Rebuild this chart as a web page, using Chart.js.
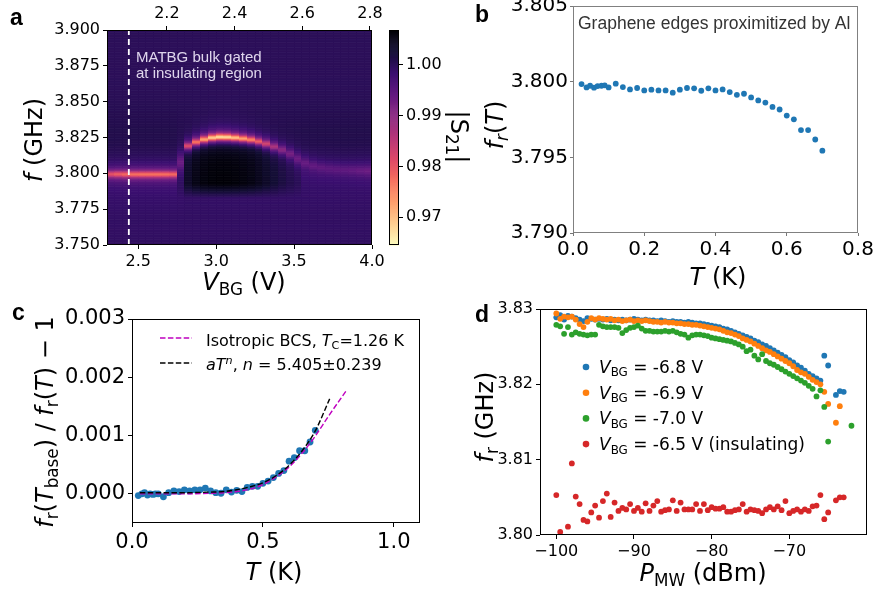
<!DOCTYPE html>
<html lang="en">
<head>
<meta charset="UTF-8">
<title>Resonator response</title>
<script src="https://cdn.jsdelivr.net/npm/chart.js@4.4.1/dist/chart.umd.min.js"></script>
<style>
  body { margin: 0; background: #fff; }
  #wrap { position: relative; width: 876px; height: 594px; }
  #wrap canvas { position: absolute; left: 0; top: 0; }
</style>
</head>
<body>
<div id="wrap">
  <canvas id="chartA" width="876" height="594"></canvas>
  <canvas id="chartCb" width="876" height="594"></canvas>
  <canvas id="chartB" width="876" height="594"></canvas>
  <canvas id="chartC" width="876" height="594"></canvas>
  <canvas id="chartD" width="876" height="594"></canvas>
</div>
<script>
const W = 876, H = 594;
const FONT = 'DejaVu Sans';

// ---------- panel a: |S21| map, one column per gate voltage ----------
const vbgCols = [2.325, 2.375, 2.425, 2.475, 2.525, 2.575, 2.625, 2.675, 2.725, 2.775,
                 2.825, 2.875, 2.925, 2.975, 3.025, 3.075, 3.125, 3.175, 3.225, 3.275,
                 3.325, 3.375, 3.425, 3.475, 3.525, 3.575, 3.625, 3.675, 3.725, 3.775,
                 3.825, 3.875, 3.925, 3.975];
const colWidth = 0.05;
// resonance frequency (GHz), depth of the dip and its half width per column
const resFreq = [3.7998, 3.7998, 3.7997, 3.7997, 3.7997, 3.7997, 3.7997, 3.7997, 3.7997, 3.8080,
                 3.8195, 3.8222, 3.8240, 3.8252, 3.8257, 3.8256, 3.8252, 3.8246, 3.8238, 3.8226,
                 3.8210, 3.8190, 3.8168, 3.8140, 3.8105, 3.8075, 3.8055, 3.8042, 3.8035, 3.8030,
                 3.8027, 3.8025, 3.8023, 3.8022];
const resMin = [0.9805, 0.9790, 0.9780, 0.9772, 0.9770, 0.9770, 0.9770, 0.9772, 0.9778, 0.9935,
                0.9815, 0.9770, 0.9725, 0.9690, 0.9675, 0.9680, 0.9700, 0.9725, 0.9755, 0.9790,
                0.9830, 0.9870, 0.9905, 0.9925, 0.9935, 0.9940, 0.9945, 0.9948, 0.9950, 0.9950,
                0.9948, 0.9945, 0.9940, 0.9935];
const resWidth = [0.0024, 0.0024, 0.0024, 0.0024, 0.0024, 0.0024, 0.0024, 0.0024, 0.0024, 0.0055,
                  0.0024, 0.0024, 0.0024, 0.0024, 0.0024, 0.0024, 0.0024, 0.0024, 0.0024, 0.0024,
                  0.0026, 0.0028, 0.0030, 0.0034, 0.0038, 0.0038, 0.0038, 0.0038, 0.0038, 0.0038,
                  0.0038, 0.0038, 0.0038, 0.0038];
// level of the dark region under the arc (0 = none)
const shadowLvl = [0, 0, 0, 0, 0, 0, 0, 0, 0, 1.0005,
                   1.0040, 1.0056, 1.0063, 1.0067, 1.0068, 1.0068, 1.0066, 1.0063, 1.0058, 1.0050,
                   1.0040, 1.0030, 1.0020, 1.0012, 1.0006, 0, 0, 0, 0, 0,
                   0, 0, 0, 0];
// background level away from the resonance, by frequency
const bgFreqs = [3.750, 3.760, 3.770, 3.780, 3.790, 3.800, 3.810, 3.820, 3.830, 3.840, 3.850, 3.860, 3.870, 3.880, 3.890, 3.900];
const bgVals  = [0.9996, 0.9994, 0.9995, 0.9993, 0.9992, 0.9990, 1.0004, 1.0012, 1.0012, 1.0008, 1.0004, 1.0002, 1.0001, 1.0001, 1.0001, 1.0002];
const fMin = 3.75, fMax = 3.90;
const vMin = 2.3, vMax = 4.0;
const v2Min = 2.023, v2Max = 2.806;
const insulatingV = 2.44;
const aTicksY = [3.750, 3.775, 3.800, 3.825, 3.850, 3.875, 3.900];
const aTicksX = [2.5, 3.0, 3.5, 4.0];
const aTicksTop = [2.2, 2.4, 2.6, 2.8];
const cbMin = 0.9645, cbMax = 1.0069;
const cbTicks = [0.97, 0.98, 0.99, 1.00];

// ---------- panel b ----------
const tempK = [0.024, 0.038, 0.048, 0.059, 0.069, 0.080, 0.089, 0.100, 0.120, 0.140,
               0.160, 0.180, 0.200, 0.220, 0.240, 0.260, 0.280, 0.300, 0.320, 0.340,
               0.360, 0.380, 0.400, 0.420, 0.440, 0.460, 0.480, 0.500, 0.520, 0.540,
               0.560, 0.580, 0.600, 0.620, 0.640, 0.660, 0.680, 0.700];
const freqB = [3.79984, 3.79962, 3.79973, 3.79960, 3.79971, 3.79973, 3.79976, 3.79962, 3.79987, 3.79964,
               3.79949, 3.79958, 3.79942, 3.79947, 3.79942, 3.79942, 3.79927, 3.79947, 3.79958, 3.79956,
               3.79940, 3.79956, 3.79942, 3.79949, 3.79931, 3.79913, 3.79920, 3.79896, 3.79876, 3.79862,
               3.79833, 3.79816, 3.79776, 3.79751, 3.79680, 3.79680, 3.79618, 3.79544];
const bTicksY = [3.790, 3.795, 3.800, 3.805];
const bTicksX = [0.0, 0.2, 0.4, 0.6, 0.8];

// ---------- panel c ----------
const ratioC = [-0.00003, 0.00000, 0.00002, -0.00002, 0.00000, -0.00001, 0.00000, 0.00000, -0.00005, 0.00002,
                0.00005, 0.00004, 0.00007, 0.00005, 0.00007, 0.00007, 0.00010, 0.00005, 0.00002, 0.00001,
                0.00007, 0.00003, 0.00006, 0.00004, 0.00011, 0.00013, 0.00013, 0.00018, 0.00022, 0.00028,
                0.00035, 0.00040, 0.00056, 0.00062, 0.00074, 0.00074, 0.00089, 0.00109];
const bcsT = [0.03, 0.10, 0.20, 0.30, 0.35, 0.40, 0.45, 0.50, 0.55, 0.60, 0.65, 0.70, 0.75, 0.82];
const bcsY = [0.00000, 0.00000, 0.00000, 0.00001, 0.00002, 0.00004, 0.00008, 0.00016, 0.00029, 0.00046, 0.00070, 0.00099, 0.00133, 0.00178];
const powT = [0.03, 0.10, 0.20, 0.30, 0.35, 0.40, 0.45, 0.50, 0.55, 0.60, 0.65, 0.70, 0.755];
const powY = [0.00002, 0.00002, 0.00002, 0.00003, 0.00004, 0.00007, 0.00012, 0.00019, 0.00031, 0.00049, 0.00074, 0.00108, 0.00163];
const cTicksY = [0.000, 0.001, 0.002, 0.003];
const cTicksX = [0.0, 0.5, 1.0];

// ---------- panel d ----------
const pSweep = [-100, -99.5, -99, -98.5, -98, -97.5, -97, -96.5, -96, -95.5, -95,
                -94.5, -94, -93.5, -93, -92.5, -92, -91.5, -91, -90.5, -90,
                -89.5, -89, -88.5, -88, -87.5, -87, -86.5, -86, -85.5, -85,
                -84.5, -84, -83.5, -83, -82.5, -82, -81.5, -81, -80.5, -80,
                -79.5, -79, -78.5, -78, -77.5, -77, -76.5, -76, -75.5, -75,
                -74.5, -74, -73.5, -73, -72.5, -72, -71.5, -71, -70.5, -70,
                -69.5, -69, -68.5, -68, -67.5, -67, -66.5, -66];
const fBlue = [3.8289, 3.8292, 3.8286, 3.8291, 3.8290, 3.8288, 3.8286, 3.8284, 3.8288, 3.8287, 3.8286,
               3.8287, 3.8286, 3.8287, 3.8285, 3.8286, 3.8285, 3.8286, 3.8285, 3.8286, 3.8287,
               3.8286, 3.8285, 3.8286, 3.8285, 3.8285, 3.8284, 3.8285, 3.8284, 3.8283, 3.8284,
               3.8283, 3.8283, 3.8282, 3.8283, 3.8282, 3.8281, 3.8281, 3.8280, 3.8279, 3.8278,
               3.8277, 3.8276, 3.8274, 3.8273, 3.8271, 3.8269, 3.8267, 3.8265, 3.8263, 3.8261,
               3.8258, 3.8256, 3.8253, 3.8251, 3.8248, 3.8245, 3.8242, 3.8239, 3.8236, 3.8232,
               3.8229, 3.8225, 3.8222, 3.8218, 3.8214, 3.8211, 3.8208, 3.8205];
const fOrange = [3.8294, 3.8287, 3.8290, 3.8289, 3.8290, 3.8286, 3.8280, 3.8276, 3.8283, 3.8288, 3.8286,
                 3.8288, 3.8287, 3.8286, 3.8287, 3.8285, 3.8286, 3.8284, 3.8285, 3.8286, 3.8284,
                 3.8285, 3.8284, 3.8285, 3.8284, 3.8283, 3.8283, 3.8282, 3.8283, 3.8282, 3.8282,
                 3.8281, 3.8281, 3.8280, 3.8280, 3.8279, 3.8279, 3.8278, 3.8277, 3.8276, 3.8275,
                 3.8274, 3.8273, 3.8271, 3.8269, 3.8268, 3.8266, 3.8264, 3.8261, 3.8259, 3.8257,
                 3.8254, 3.8251, 3.8248, 3.8245, 3.8243, 3.8240, 3.8237, 3.8234, 3.8231, 3.8228,
                 3.8224, 3.8219, 3.8216, 3.8214, 3.8210, 3.8206, 3.8203, 3.8200];
const fGreen = [3.8279, 3.8277, 3.8267, 3.8276, 3.8266, 3.8269, 3.8267, 3.8266, 3.8265, 3.8266, 3.8266,
                3.8279, 3.8277, 3.8276, 3.8276, 3.8276, 3.8275, 3.8268, 3.8272, 3.8275, 3.8276,
                3.8278, 3.8274, 3.8271, 3.8271, 3.8270, 3.8270, 3.8270, 3.8271, 3.8270, 3.8271,
                3.8269, 3.8267, 3.8266, 3.8262, 3.8265, 3.8266, 3.8266, 3.8265, 3.8264, 3.8262,
                3.8261, 3.8260, 3.8259, 3.8258, 3.8257, 3.8255, 3.8253, 3.8250, 3.8244, 3.8246,
                3.8238, 3.8233, 3.8240, 3.8231, 3.8228, 3.8226, 3.8223, 3.8220, 3.8217, 3.8214,
                3.8211, 3.8208, 3.8205, 3.8202, 3.8198, 3.8194, 3.8184, 3.8192];
// points past the end of the sweep
const pBlueEnd = [-65.5, -65, -64, -63.5, -63];
const fBlueEnd = [3.8238, 3.8225, 3.8186, 3.8191, 3.8190];
const pOrangeEnd = [-65.5, -65, -64, -63.5];
const fOrangeEnd = [3.8190, 3.8174, 3.8149, 3.8171];
const pGreenEnd = [-65.5, -65, -62];
const fGreenEnd = [3.8170, 3.8124, 3.8145];
const pRed = [-100, -99.5, -98.5, -98, -97.5, -97, -96.5, -96, -95.5, -95,
              -94.5, -94, -93.5, -93, -92.5, -92, -91.5, -91, -90.5, -90,
              -89.5, -89, -88.5, -88, -87.5, -87, -86.5, -86, -85.5, -85,
              -84.5, -84, -83.5, -83, -82.5, -82, -81.5, -81, -80.5, -80,
              -79.5, -79, -78.5, -78, -77.5, -77, -76.5, -76, -75.5, -75,
              -74.5, -74, -73.5, -73, -72.5, -72, -71.5, -71, -70.5, -70,
              -69.5, -69, -68.5, -68, -67.5, -67, -66.5, -66, -65.5, -65,
              -64, -63.5, -63];
const fRed = [3.8053, 3.8004, 3.8011, 3.8095, 3.8051, 3.8041, 3.8020, 3.8018, 3.8030, 3.8039,
              3.8023, 3.8045, 3.8055, 3.8024, 3.8043, 3.8032, 3.8036, 3.8034, 3.8041, 3.8032,
              3.8036, 3.8031, 3.8042, 3.8032, 3.8039, 3.8045, 3.8031, 3.8033, 3.8034, 3.8046,
              3.8032, 3.8043, 3.8034, 3.8034, 3.8034, 3.8041, 3.8032, 3.8041, 3.8033, 3.8037,
              3.8035, 3.8035, 3.8037, 3.8031, 3.8031, 3.8033, 3.8034, 3.8041, 3.8031, 3.8034,
              3.8033, 3.8032, 3.8029, 3.8034, 3.8037, 3.8034, 3.8038, 3.8033, 3.8045, 3.8029,
              3.8032, 3.8034, 3.8031, 3.8034, 3.8032, 3.8038, 3.8039, 3.8053, 3.8021, 3.8030,
              3.8046, 3.8050, 3.8050];
const dTicksY = [3.80, 3.81, 3.82, 3.83];
const dTicksX = [-100, -90, -80, -70];
const seriesColors = ['#1f77b4', '#ff7f0e', '#2ca02c', '#d62728'];
const legendD = ['-6.8 V', '-6.9 V', '-7.0 V', '-6.5 V (insulating)'];

// ---------- helpers ----------
const xy = (xs, ys) => xs.map((x, i) => ({ x, y: ys[i] }));

// magma colormap stops
const magma = [[0, 0, 4], [20, 14, 54], [59, 15, 112], [100, 26, 128], [140, 41, 129], [183, 55, 121],
               [222, 73, 104], [247, 112, 92], [254, 159, 109], [254, 207, 146], [252, 253, 191]];
function magmaR(val) {
  let t = (cbMax - val) / (cbMax - cbMin);
  t = Math.min(1, Math.max(0, t)) * (magma.length - 1);
  const i = Math.min(magma.length - 2, Math.floor(t)), u = t - i;
  const c = magma[i].map((v, k) => Math.round(v + (magma[i + 1][k] - v) * u));
  return `rgb(${c[0]},${c[1]},${c[2]})`;
}
function interp(xs, ys, x) {
  if (x <= xs[0]) return ys[0];
  for (let i = 1; i < xs.length; i++) {
    if (x <= xs[i]) return ys[i - 1] + (ys[i] - ys[i - 1]) * (x - xs[i - 1]) / (xs[i] - xs[i - 1]);
  }
  return ys[ys.length - 1];
}
function cellValue(i, f) {
  let bg = interp(bgFreqs, bgVals, f);
  if (shadowLvl[i] > 0 && f < resFreq[i] && f > 3.783) {
    const ramp = Math.min(1, (f - 3.783) / 0.010);
    bg += (shadowLvl[i] - bg) * ramp;
  }
  const d = (f - resFreq[i]) / resWidth[i];
  return bg - (bg - resMin[i]) / (1 + d * d);
}

// rich text: segments {t, i (italic), sub, sup}
function drawRich(ctx, segs, x, y, size, opt = {}) {
  const fam = opt.family || FONT;
  const fontOf = s => `${s.i ? 'italic ' : ''}${(s.sub || s.sup) ? size * 0.7 : size}px "${fam}"`;
  ctx.save();
  ctx.translate(x, y);
  if (opt.rot) ctx.rotate(opt.rot);
  let w = 0;
  segs.forEach(s => { ctx.font = fontOf(s); w += ctx.measureText(s.t).width; });
  let cx = opt.align === 'left' ? 0 : opt.align === 'right' ? -w : -w / 2;
  ctx.fillStyle = opt.color || '#000';
  ctx.textBaseline = 'alphabetic';
  ctx.textAlign = 'left';
  segs.forEach(s => {
    ctx.font = fontOf(s);
    ctx.fillText(s.t, cx, s.sub ? size * 0.2 : s.sup ? -size * 0.38 : 0);
    cx += ctx.measureText(s.t).width;
  });
  ctx.restore();
}

function noPad(s) { s.paddingTop = 0; s.paddingBottom = 0; s.paddingLeft = 0; s.paddingRight = 0; }

// axis box takes the whole margin on its side, so the tick labels are not clipped
function axis(o) {
  const horizontal = o.pos === 'top' || o.pos === 'bottom';
  const color = o.color || '#000';
  return {
    type: 'linear', position: o.pos, min: o.min, max: o.max,
    afterFit: s => { if (horizontal) s.height = o.box; else s.width = o.box; noPad(s); },
    afterBuildTicks: s => { s.ticks = o.ticks.map(v => ({ value: v })); },
    ticks: { callback: o.fmt, font: { family: FONT, size: o.size }, color: '#000',
             padding: o.pad === undefined ? 3 : o.pad, autoSkip: false, maxRotation: 0, minRotation: 0 },
    grid: { drawOnChartArea: false, drawTicks: true, tickLength: o.tl || 4, tickColor: color, tickWidth: 1 },
    border: { display: false }
  };
}

function baseOptions(area, sides, scales) {
  const pad = {
    left: sides.includes('left') ? 0 : area.l,
    top: sides.includes('top') ? 0 : area.t,
    right: sides.includes('right') ? 0 : W - area.r,
    bottom: sides.includes('bottom') ? 0 : H - area.b
  };
  return {
    responsive: false, animation: false, events: [],
    layout: { padding: pad },
    plugins: { legend: { display: false }, tooltip: { enabled: false } },
    scales
  };
}

function framePlugin(color) {
  return {
    id: 'frame',
    afterDraw(chart) {
      const a = chart.chartArea, c = chart.ctx;
      c.save();
      c.strokeStyle = color;
      c.lineWidth = 1;
      c.strokeRect(a.left + 0.5, a.top + 0.5, a.width - 1, a.height - 1);
      c.restore();
    }
  };
}

function textPlugin(draw) {
  return { id: 'texts', afterDraw(chart) { draw(chart.ctx); } };
}

function letter(ctx, ch, x, y) {
  ctx.save();
  ctx.font = 'bold 23px "Liberation Sans"';
  ctx.fillStyle = '#000';
  ctx.fillText(ch, x, y);
  ctx.restore();
}

// ---------- panel a ----------
const areaA = { l: 107, t: 30, r: 372, b: 245 };
const heatmapPlugin = {
  id: 'heatmap',
  beforeDatasetsDraw(chart) {
    const { ctx, chartArea: a, scales: { x, y } } = chart;
    ctx.save();
    ctx.beginPath();
    ctx.rect(a.left, a.top, a.width, a.height);
    ctx.clip();
    const half = colWidth / 2, step = 0.0005;
    vbgCols.forEach((v, i) => {
      const x0 = Math.floor(x.getPixelForValue(v - half));
      const x1 = Math.ceil(x.getPixelForValue(v + half));
      for (let k = 0; fMin + k * step < fMax; k++) {
        const f = fMin + k * step;
        const yTop = y.getPixelForValue(f + step), yBot = y.getPixelForValue(f);
        ctx.fillStyle = magmaR(cellValue(i, f + step / 2));
        ctx.fillRect(x0, yTop, x1 - x0, yBot - yTop + 0.6);
      }
    });
    ctx.restore();
  }
};

new Chart(document.getElementById('chartA'), {
  type: 'scatter',
  data: {
    datasets: [{
      data: [{ x: insulatingV, y: fMin }, { x: insulatingV, y: fMax }],
      showLine: true, borderColor: '#ffffff', borderWidth: 1.8, borderDash: [6, 4], pointRadius: 0
    }]
  },
  options: baseOptions(areaA, ['left', 'bottom', 'top'], {
    x: axis({ pos: 'bottom', min: vMin, max: vMax, ticks: aTicksX, fmt: v => v.toFixed(1), size: 16, box: H - areaA.b }),
    x2: axis({ pos: 'top', min: v2Min, max: v2Max, ticks: aTicksTop, fmt: v => v.toFixed(1), size: 16, box: areaA.t }),
    y: axis({ pos: 'left', min: fMin, max: fMax, ticks: aTicksY, fmt: v => v.toFixed(3), size: 16, box: areaA.l })
  }),
  plugins: [heatmapPlugin, framePlugin('#000'), textPlugin(ctx => {
    letter(ctx, 'a', 10, 25);
    ctx.save();
    ctx.font = '15px "Liberation Sans"';
    ctx.fillStyle = 'rgba(238,230,248,0.92)';
    ctx.fillText('MATBG bulk gated', 136, 62);
    ctx.fillText('at insulating region', 136, 78);
    ctx.restore();
    drawRich(ctx, [{ t: 'f', i: 1 }, { t: ' (GHz)' }], 42, 140, 24, { rot: -Math.PI / 2 });
    drawRich(ctx, [{ t: 'V', i: 1 }, { t: 'BG', sub: 1 }, { t: ' (V)' }], 244, 290, 24);
    drawRich(ctx, [{ t: '|S' }, { t: '21', sub: 1 }, { t: '|' }], 451, 137, 24, { rot: Math.PI / 2 });
  })]
});

// colorbar
const areaCb = { l: 389, t: 30, r: 399, b: 245 };
new Chart(document.getElementById('chartCb'), {
  type: 'scatter',
  data: { datasets: [] },
  options: baseOptions(areaCb, ['right'], {
    x: { type: 'linear', display: false, min: 0, max: 1 },
    y: axis({ pos: 'right', min: cbMin, max: cbMax, ticks: cbTicks, fmt: v => v.toFixed(2), size: 16, box: W - areaCb.r })
  }),
  plugins: [{
    id: 'cbar',
    beforeDatasetsDraw(chart) {
      const { ctx, chartArea: a, scales: { y } } = chart;
      const step = 0.0002;
      for (let k = 0; cbMin + k * step < cbMax; k++) {
        const v = cbMin + k * step;
        const y0 = y.getPixelForValue(v), y1 = y.getPixelForValue(Math.min(cbMax, v + step));
        ctx.fillStyle = magmaR(v + step / 2);
        ctx.fillRect(a.left, y1, a.width, y0 - y1 + 0.6);
      }
    }
  }, framePlugin('#000')]
});

// ---------- panel b ----------
const areaB = { l: 573, t: 6, r: 858, b: 233 };
new Chart(document.getElementById('chartB'), {
  type: 'scatter',
  data: {
    datasets: [{
      data: xy(tempK, freqB), pointRadius: 2.9, pointBorderWidth: 0,
      pointBackgroundColor: '#1f77b4', backgroundColor: '#1f77b4'
    }]
  },
  options: baseOptions(areaB, ['left', 'bottom'], {
    x: axis({ pos: 'bottom', min: 0, max: 0.8, ticks: bTicksX, fmt: v => v.toFixed(1), size: 20, color: '#777', tl: 3, pad: 2, box: H - areaB.b }),
    y: axis({ pos: 'left', min: 3.790, max: 3.805, ticks: bTicksY, fmt: v => v.toFixed(3), size: 20, color: '#777', tl: 3, pad: 2, box: areaB.l })
  }),
  plugins: [framePlugin('#808080'), textPlugin(ctx => {
    letter(ctx, 'b', 475, 22);
    ctx.save();
    ctx.font = '17.5px "Liberation Sans"';
    ctx.fillStyle = '#333';
    ctx.fillText('Graphene edges proximitized by Al', 578, 29);
    ctx.restore();
    drawRich(ctx, [{ t: 'f', i: 1 }, { t: 'r', i: 1, sub: 1 }, { t: '(' }, { t: 'T', i: 1 }, { t: ')' }], 503, 125, 24, { rot: -Math.PI / 2 });
    drawRich(ctx, [{ t: 'T', i: 1 }, { t: ' (K)' }], 718, 285, 24);
  })]
});

// ---------- panel c ----------
const areaC = { l: 132, t: 319, r: 420, b: 523 };
new Chart(document.getElementById('chartC'), {
  type: 'scatter',
  data: {
    datasets: [
      { data: xy(powT, powY), showLine: true, borderColor: '#000', borderWidth: 1.4, borderDash: [5.5, 2.4],
        pointRadius: 0, cubicInterpolationMode: 'monotone', order: 0 },
      { data: xy(bcsT, bcsY), showLine: true, borderColor: '#bf00bf', borderWidth: 1.4, borderDash: [5.5, 2.4],
        pointRadius: 0, cubicInterpolationMode: 'monotone', order: 1 },
      { data: xy(tempK, ratioC), pointRadius: 3.4, pointBorderWidth: 0,
        pointBackgroundColor: '#1f77b4', backgroundColor: '#1f77b4', order: 2 }
    ]
  },
  options: baseOptions(areaC, ['left', 'bottom'], {
    x: axis({ pos: 'bottom', min: 0, max: 1.1, ticks: cTicksX, fmt: v => v.toFixed(1), size: 21, box: H - areaC.b }),
    y: axis({ pos: 'left', min: -0.0005, max: 0.003, ticks: cTicksY, fmt: v => v.toFixed(3), size: 21, box: areaC.l })
  }),
  plugins: [framePlugin('#000'), textPlugin(ctx => {
    letter(ctx, 'c', 12, 320);
    ctx.save();
    ctx.lineWidth = 1.4;
    ctx.setLineDash([5.5, 2.4]);
    ctx.strokeStyle = '#bf00bf';
    ctx.beginPath(); ctx.moveTo(160, 338); ctx.lineTo(192, 338); ctx.stroke();
    ctx.strokeStyle = '#000';
    ctx.beginPath(); ctx.moveTo(160, 363); ctx.lineTo(192, 363); ctx.stroke();
    ctx.restore();
    drawRich(ctx, [{ t: 'Isotropic BCS, ' }, { t: 'T', i: 1 }, { t: 'C', sub: 1 }, { t: '=1.26 K' }], 206, 346, 16, { align: 'left' });
    drawRich(ctx, [{ t: 'aT', i: 1 }, { t: 'n', i: 1, sup: 1 }, { t: ', ' }, { t: 'n', i: 1 }, { t: ' = 5.405±0.239' }], 206, 370, 16, { align: 'left' });
    drawRich(ctx, [{ t: 'f', i: 1 }, { t: 'r', sub: 1 }, { t: '(' }, { t: 'T', i: 1 }, { t: 'base', sub: 1 }, { t: ') / ' },
                   { t: 'f', i: 1 }, { t: 'r', sub: 1 }, { t: '(' }, { t: 'T', i: 1 }, { t: ') \u2212 1' }], 53, 422, 24, { rot: -Math.PI / 2 });
    drawRich(ctx, [{ t: 'T', i: 1 }, { t: ' (K)' }], 274, 580, 24);
  })]
});

// ---------- panel d ----------
const areaD = { l: 540, t: 309, r: 867, b: 535 };
const dotSet = (xs, ys, color, order) => ({
  data: xy(xs, ys), pointRadius: 2.9, pointBorderWidth: 0,
  pointBackgroundColor: color, backgroundColor: color, order
});
new Chart(document.getElementById('chartD'), {
  type: 'scatter',
  data: {
    datasets: [
      dotSet(pSweep.concat(pBlueEnd), fBlue.concat(fBlueEnd), seriesColors[0], 4),
      dotSet(pSweep.concat(pOrangeEnd), fOrange.concat(fOrangeEnd), seriesColors[1], 3),
      dotSet(pSweep.concat(pGreenEnd), fGreen.concat(fGreenEnd), seriesColors[2], 2),
      dotSet(pRed, fRed, seriesColors[3], 1)
    ]
  },
  options: baseOptions(areaD, ['left', 'bottom'], {
    x: axis({ pos: 'bottom', min: -102.1, max: -60, ticks: dTicksX, fmt: v => (v < 0 ? '\u2212' : '') + Math.abs(v), size: 16, box: H - areaD.b }),
    y: axis({ pos: 'left', min: 3.80, max: 3.83, ticks: dTicksY, fmt: v => v.toFixed(2), size: 16, box: areaD.l })
  }),
  plugins: [framePlugin('#000'), textPlugin(ctx => {
    letter(ctx, 'd', 475, 322);
    legendD.forEach((lab, i) => {
      const yy = 367 + i * 25.7;
      ctx.save();
      ctx.fillStyle = seriesColors[i];
      ctx.beginPath(); ctx.arc(586, yy, 3.3, 0, Math.PI * 2); ctx.fill();
      ctx.restore();
      drawRich(ctx, [{ t: 'V', i: 1 }, { t: 'BG', sub: 1 }, { t: ' = ' + lab }], 599, yy + 6, 17, { align: 'left' });
    });
    drawRich(ctx, [{ t: 'f', i: 1 }, { t: 'r', sub: 1 }, { t: ' (GHz)' }], 493, 417, 24, { rot: -Math.PI / 2 });
    drawRich(ctx, [{ t: 'P', i: 1 }, { t: 'MW', sub: 1 }, { t: ' (dBm)' }], 703, 581, 24);
  })]
});
</script>
</body>
</html>
